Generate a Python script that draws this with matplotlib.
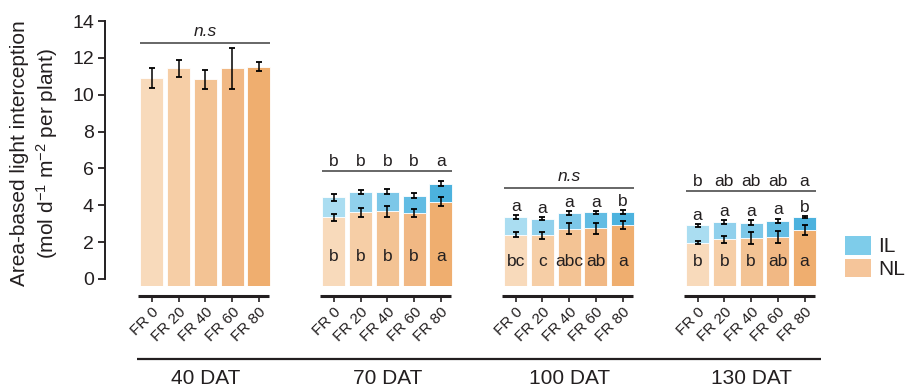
import matplotlib
matplotlib.use('Agg')
import matplotlib.pyplot as plt
from matplotlib.patches import Patch
import matplotlib.transforms as mtransforms

plt.rcParams['font.family'] = ['Liberation Sans', 'DejaVu Sans']
plt.rcParams['mathtext.fontset'] = 'custom'
plt.rcParams['mathtext.rm'] = 'Liberation Sans'
plt.rcParams['mathtext.it'] = 'Liberation Sans:italic'

TEXT = '#231F20'

# ---------------- data ----------------
groups = ['40 DAT', '70 DAT', '100 DAT', '130 DAT']
treatments = ['FR 0', 'FR 20', 'FR 40', 'FR 60', 'FR 80']

# 40 DAT : total only
total_40 = [10.89, 11.43, 10.83, 11.43, 11.52]
total_40_err = [0.54, 0.46, 0.52, 1.11, 0.24]

# 70 DAT
nl_70 = [3.35, 3.62, 3.67, 3.58, 4.20]
nl_70_err = [0.18, 0.23, 0.29, 0.24, 0.23]
total_70 = [4.43, 4.74, 4.74, 4.52, 5.17]
total_70_err = [0.20, 0.11, 0.13, 0.14, 0.14]

# 100 DAT
nl_100 = [2.40, 2.37, 2.73, 2.75, 2.93]
nl_100_err = [0.13, 0.20, 0.30, 0.30, 0.20]
total_100 = [3.35, 3.27, 3.58, 3.62, 3.62]
total_100_err = [0.11, 0.07, 0.13, 0.09, 0.12]

# 130 DAT
nl_130 = [1.97, 2.15, 2.22, 2.28, 2.66]
nl_130_err = [0.07, 0.20, 0.34, 0.33, 0.29]
total_130 = [2.91, 3.09, 3.06, 3.17, 3.35]
total_130_err = [0.09, 0.12, 0.12, 0.11, 0.06]

total_letters_70 = ['b', 'b', 'b', 'b', 'a']
total_letters_130 = ['b', 'ab', 'ab', 'ab', 'a']
il_letters_100 = ['a', 'a', 'a', 'a', 'b']
il_letters_130 = ['a', 'a', 'a', 'a', 'b']
nl_letters_70 = ['b', 'b', 'b', 'b', 'a']
nl_letters_100 = ['bc', 'c', 'abc', 'ab', 'a']
nl_letters_130 = ['b', 'b', 'b', 'ab', 'a']

# ---------------- style ----------------
nl_colors = ['#F8DABB', '#F6CEA6', '#F3C394', '#F1B884', '#EFAE6F']
il_colors = ['#AADDF1', '#90D0EC', '#7CC7E8', '#62BCE3', '#4CB2DE']
legend_il = '#7ECCEA'
legend_nl = '#F5C59A'

BAR_BASE = -0.38
GROUP_STEP = 6.8
BAR_W = 0.86
LETTER_FS = 12.5

fig = plt.figure(figsize=(9.08, 3.89), dpi=100)
ax = fig.add_axes([105 / 908, 1 - 286 / 389, 725 / 908, 265 / 389])

n = len(treatments)


def xs(g):
    return [g * GROUP_STEP + i for i in range(n)]


err_kw = dict(fmt='none', ecolor='black', elinewidth=1.1, capsize=2.2, capthick=1.3, zorder=4)

# 40 DAT
x0 = xs(0)
ax.bar(x0, [v - BAR_BASE for v in total_40], bottom=BAR_BASE, width=BAR_W,
       color=nl_colors, edgecolor='white', linewidth=0.6, zorder=2)
ax.errorbar(x0, total_40, yerr=total_40_err, **err_kw)

stack_data = [
    (1, nl_70, nl_70_err, total_70, total_70_err),
    (2, nl_100, nl_100_err, total_100, total_100_err),
    (3, nl_130, nl_130_err, total_130, total_130_err),
]
for g, nl, nle, tot, tote in stack_data:
    xg = xs(g)
    ax.bar(xg, [v - BAR_BASE for v in nl], bottom=BAR_BASE, width=BAR_W,
           color=nl_colors, edgecolor='white', linewidth=0.6, zorder=2)
    ax.bar(xg, [t - v for t, v in zip(tot, nl)], bottom=nl, width=BAR_W,
           color=il_colors, edgecolor='white', linewidth=0.6, zorder=2)
    ax.errorbar(xg, nl, yerr=nle, **err_kw)
    ax.errorbar(xg, tot, yerr=tote, **err_kw)

# significance lines and labels above each group
LINE_C = '#5A5A5A'
sig_specs = [
    (0, 12.8, 'n.s'),
    (1, 5.88, total_letters_70),
    (2, 4.95, 'n.s'),
    (3, 4.77, total_letters_130),
]
for g, yl, lab in sig_specs:
    xg = xs(g)
    ax.plot([xg[0] - BAR_W / 2, xg[-1] + BAR_W / 2], [yl, yl], color=LINE_C, lw=1.3,
            solid_capstyle='butt', zorder=3)
    if isinstance(lab, str):
        ax.text((xg[0] + xg[-1]) / 2, yl + 0.36, lab, ha='center', va='baseline',
                fontsize=LETTER_FS, style='italic', color=TEXT)
    else:
        for x, l in zip(xg, lab):
            ax.text(x, yl + 0.27, l, ha='center', va='baseline', fontsize=LETTER_FS, color=TEXT)

# IL letters above stacked bars
for g, tot, tote, labs in [(2, total_100, total_100_err, il_letters_100),
                           (3, total_130, total_130_err, il_letters_130)]:
    for x, t, e, l in zip(xs(g), tot, tote, labs):
        ax.text(x, t + e + 0.22, l, ha='center', va='baseline', fontsize=LETTER_FS, color=TEXT)

# NL letters inside bars
for g, yb, labs in [(1, 1.0, nl_letters_70), (2, 0.7, nl_letters_100), (3, 0.7, nl_letters_130)]:
    for x, l in zip(xs(g), labs):
        ax.text(x, yb, l, ha='center', va='baseline', fontsize=LETTER_FS, color=TEXT, zorder=5)

# ---------------- axes ----------------
ax.set_ylim(BAR_BASE, 14)
ax.set_xlim(-1.757, 25.35)
ax.set_yticks(range(0, 15, 2))
ax.spines['left'].set_bounds(0, 14)
ax.spines['left'].set_linewidth(1.4)
ax.spines['left'].set_color(TEXT)
for s in ['top', 'right']:
    ax.spines[s].set_visible(False)
ax.spines['bottom'].set_position(('outward', 7.2))
ax.spines['bottom'].set_visible(False)
ax.tick_params(axis='y', direction='out', length=5, width=1.3, labelsize=14,
               colors=TEXT, pad=3)

all_x = [x for g in range(4) for x in xs(g)]
ax.set_xticks(all_x)
ax.set_xticklabels(treatments * 4, rotation=45, ha='right', rotation_mode='anchor',
                   fontsize=11, color=TEXT)
ax.tick_params(axis='x', direction='out', length=4.5, width=1.2, pad=2, colors=TEXT)

ax.set_ylabel('Area-based light interception\n(mol d$^{-1}$ m$^{-2}$ per plant)',
              fontsize=15, color=TEXT, linespacing=1.25)
ax.yaxis.set_label_coords(-0.062, 0.5)

# group underlines (x axis pieces)
trans = mtransforms.blended_transform_factory(ax.transData, ax.transAxes)
for g in range(4):
    xg = xs(g)
    ax.plot([xg[0] - 0.52, xg[-1] + 0.38], [-0.038, -0.038], transform=trans,
            color=TEXT, lw=2.2, clip_on=False, solid_capstyle='butt')

# long bottom line and group labels
ax.plot([xs(0)[0] - 0.56, xs(3)[-1] + 0.6], [-0.277, -0.277], transform=trans,
        color=TEXT, lw=1.6, clip_on=False, solid_capstyle='butt')
for g, name in enumerate(groups):
    xg = xs(g)
    ax.text((xg[0] + xg[-1]) / 2, -0.35, name, transform=trans, ha='center', va='center',
            fontsize=15, color=TEXT)

# legend
handles = [Patch(facecolor=legend_il, edgecolor='none'), Patch(facecolor=legend_nl, edgecolor='none')]
fig.legend(handles, ['IL', 'NL'], loc='upper left', bbox_to_anchor=(845 / 908, 1 - 236 / 389),
           frameon=False, fontsize=15, handlelength=1.25, handleheight=1.0, handletextpad=0.35,
           labelspacing=0.1, borderpad=0, borderaxespad=0)
for t in fig.legends[0].get_texts():
    t.set_color(TEXT)

fig.savefig('out.png', dpi=100)
